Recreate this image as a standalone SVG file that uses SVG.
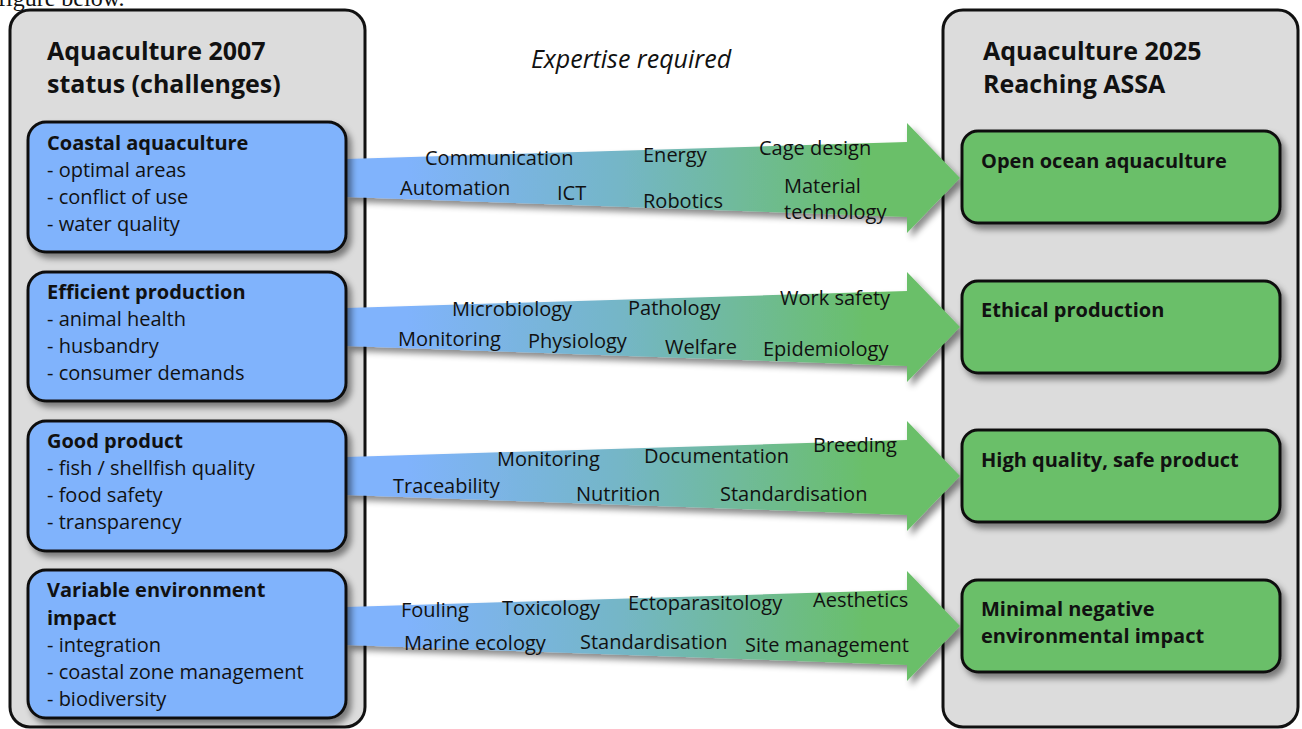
<svg xmlns="http://www.w3.org/2000/svg" width="1302" height="729" viewBox="0 0 1302 729">
<style>
.panel{fill:#dcdcdc;stroke:#111;stroke-width:3}
.blue{fill:#80b3fc;stroke:#111;stroke-width:3}
.green{fill:#6abf69;stroke:#111;stroke-width:3}
.t{font-family:"Open Sans",Lato,sans-serif;fill:#111}
.h{font-size:25px;font-weight:bold}
.b{font-size:20px;font-weight:bold}
.r{font-size:20px}
.lab{font-family:"Open Sans",Lato,sans-serif;font-size:20px;fill:#111}
.arrow{fill:url(#grad)}
</style>
<defs>
<linearGradient id="grad" gradientUnits="userSpaceOnUse" x1="346" y1="0" x2="960" y2="0">
<stop offset="0" stop-color="#80b3fc"/>
<stop offset="0.1" stop-color="#80b3fc"/>
<stop offset="0.45" stop-color="#74b6c6"/>
<stop offset="0.85" stop-color="#6abf69"/>
<stop offset="1" stop-color="#6abf69"/>
</linearGradient>
<filter id="sh" x="-10%" y="-10%" width="130%" height="140%">
<feDropShadow dx="4" dy="5" stdDeviation="3" flood-color="#000" flood-opacity="0.45"/>
</filter>
</defs>
<rect width="1302" height="729" fill="#fff"/>
<text x="-2" y="6" font-family="'Liberation Serif',serif" font-size="24" fill="#111">figure below.</text>

<g id="panel-left">
<rect class="panel" x="10" y="10" width="355" height="717" rx="20"/>
<text class="t h" x="47" y="60">Aquaculture 2007</text>
<text class="t h" x="47" y="93">status (challenges)</text>
</g>
<g id="panel-right">
<rect class="panel" x="943" y="10" width="355" height="717" rx="20"/>
<text class="t h" x="983" y="60">Aquaculture 2025</text>
<text class="t h" x="983" y="93">Reaching ASSA</text>
</g>
<text id="expertise" x="631" y="68" text-anchor="middle" font-family="'Open Sans',Lato,sans-serif" font-size="25" font-style="italic" fill="#111">Expertise required</text>

<g id="connectors" filter="url(#sh)">
<path class="arrow" d="M346,159 L907,142 L907,123 L960,178 L907,233 L907,217 L346,197 Z"/>
<path class="arrow" d="M346,308 L907,291 L907,272 L960,327 L907,382 L907,366 L346,346 Z"/>
<path class="arrow" d="M346,457 L907,440 L907,421 L960,476 L907,531 L907,515 L346,495 Z"/>
<path class="arrow" d="M346,607 L907,590 L907,571 L960,626 L907,681 L907,665 L346,645 Z"/>
</g>
<g id="labels-1">
<text class="lab" x="425" y="165">Communication</text>
<text class="lab" x="643" y="162">Energy</text>
<text class="lab" x="759" y="155">Cage design</text>
<text class="lab" x="400" y="195">Automation</text>
<text class="lab" x="557" y="200">ICT</text>
<text class="lab" x="643" y="208">Robotics</text>
<text class="lab" x="784" y="193">Material</text>
<text class="lab" x="784" y="219">technology</text>
</g>
<g id="labels-2">
<text class="lab" x="452" y="316">Microbiology</text>
<text class="lab" x="628" y="315">Pathology</text>
<text class="lab" x="780" y="305">Work safety</text>
<text class="lab" x="398" y="346">Monitoring</text>
<text class="lab" x="528" y="348">Physiology</text>
<text class="lab" x="665" y="354">Welfare</text>
<text class="lab" x="763" y="356">Epidemiology</text>
</g>
<g id="labels-3">
<text class="lab" x="497" y="466">Monitoring</text>
<text class="lab" x="644" y="463">Documentation</text>
<text class="lab" x="813" y="452">Breeding</text>
<text class="lab" x="393" y="493">Traceability</text>
<text class="lab" x="576" y="501">Nutrition</text>
<text class="lab" x="720" y="501">Standardisation</text>
</g>
<g id="labels-4">
<text class="lab" x="401" y="617">Fouling</text>
<text class="lab" x="502" y="615">Toxicology</text>
<text class="lab" x="628" y="610">Ectoparasitology</text>
<text class="lab" x="813" y="607">Aesthetics</text>
<text class="lab" x="404" y="650">Marine ecology</text>
<text class="lab" x="580" y="649">Standardisation</text>
<text class="lab" x="745" y="652">Site management</text>
</g>

<g id="node-coastal">
<rect class="blue" x="28" y="122" width="318" height="130" rx="18" filter="url(#sh)"/>
<text class="t b" x="47" y="150">Coastal aquaculture</text>
<text class="t r" x="47" y="177">- optimal areas</text>
<text class="t r" x="47" y="204">- conflict of use</text>
<text class="t r" x="47" y="231">- water quality</text>
</g>
<g id="node-efficient">
<rect class="blue" x="28" y="272" width="318" height="129" rx="18" filter="url(#sh)"/>
<text class="t b" x="47" y="299">Efficient production</text>
<text class="t r" x="47" y="326">- animal health</text>
<text class="t r" x="47" y="353">- husbandry</text>
<text class="t r" x="47" y="380">- consumer demands</text>
</g>
<g id="node-good">
<rect class="blue" x="28" y="421" width="318" height="130" rx="18" filter="url(#sh)"/>
<text class="t b" x="47" y="448">Good product</text>
<text class="t r" x="47" y="475">- fish / shellfish quality</text>
<text class="t r" x="47" y="502">- food safety</text>
<text class="t r" x="47" y="529">- transparency</text>
</g>
<g id="node-variable">
<rect class="blue" x="28" y="570" width="318" height="148" rx="18" filter="url(#sh)"/>
<text class="t b" x="47" y="597">Variable environment</text>
<text class="t b" x="47" y="625">impact</text>
<text class="t r" x="47" y="652">- integration</text>
<text class="t r" x="47" y="679">- coastal zone management</text>
<text class="t r" x="47" y="706">- biodiversity</text>
</g>

<g id="node-open">
<rect class="green" x="962" y="131" width="318" height="92" rx="16" filter="url(#sh)"/>
<text class="t b" x="981" y="168">Open ocean aquaculture</text>
</g>
<g id="node-ethical">
<rect class="green" x="962" y="281" width="318" height="92" rx="16" filter="url(#sh)"/>
<text class="t b" x="981" y="317">Ethical production</text>
</g>
<g id="node-quality">
<rect class="green" x="962" y="430" width="318" height="92" rx="16" filter="url(#sh)"/>
<text class="t b" x="981" y="467">High quality, safe product</text>
</g>
<g id="node-minimal">
<rect class="green" x="962" y="580" width="318" height="92" rx="16" filter="url(#sh)"/>
<text class="t b" x="981" y="616">Minimal negative</text>
<text class="t b" x="981" y="643">environmental impact</text>
</g>
</svg>
